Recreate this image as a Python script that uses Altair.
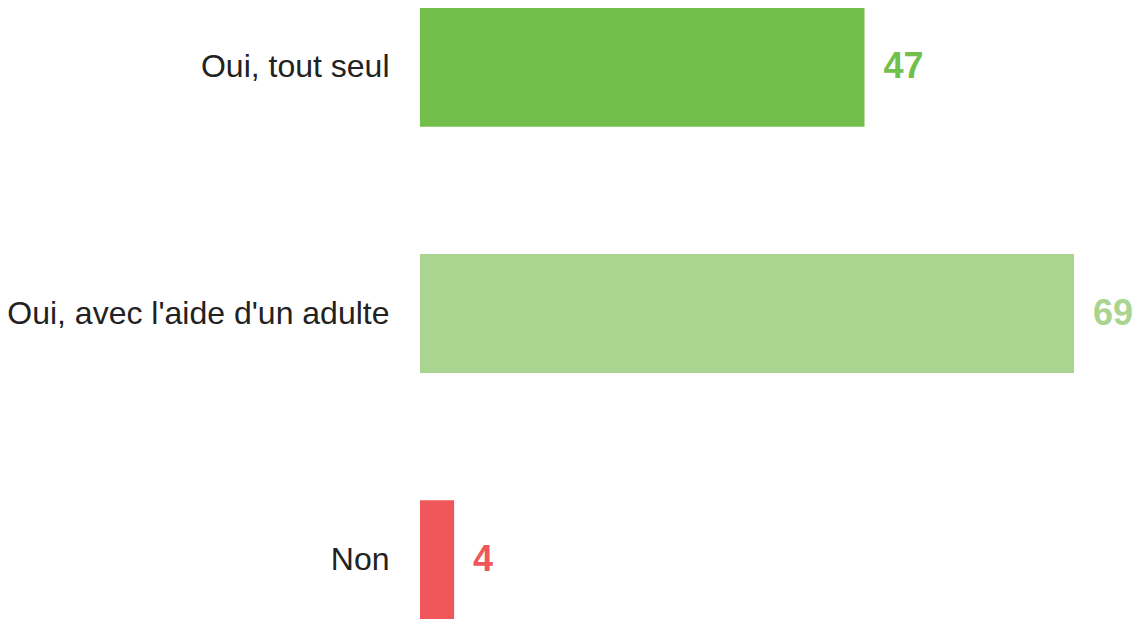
import altair as alt
import pandas as pd

categories = ["Oui, tout seul", "Oui, avec l'aide d'un adulte", "Non"]
values = [46.9, 69.0, 3.6]
colors = ["#72c04b", "#aad590", "#f0575b"]

df = pd.DataFrame({"cat": categories, "val": values})

y_enc = alt.Y(
    "cat:N",
    sort=categories,
    scale=alt.Scale(paddingInner=0.517, paddingOuter=0),
    axis=alt.Axis(
        title=None, domain=False, ticks=False, grid=False,
        labelPadding=31, labelFontSize=32, labelFont="Arial, Liberation Sans, sans-serif",
        labelColor="#222222", labelLimit=500,
    ),
)
x_enc = alt.X("val:Q", scale=alt.Scale(domain=[0, 69], nice=False, zero=True), axis=None)
color_enc = alt.Color("cat:N", scale=alt.Scale(domain=categories, range=colors), legend=None)

base = alt.Chart(df)
bars = base.mark_bar().encode(x=x_enc, y=y_enc, color=color_enc)
labels = base.mark_text(
    align="left", baseline="middle", dx=19, dy=0,
    fontSize=36, fontWeight="bold", font="Arial, Liberation Sans, sans-serif",
).encode(x=x_enc, y=y_enc, color=color_enc, text=alt.Text("val:Q", format=".0f"))

chart = (
    alt.layer(bars, labels)
    .properties(
        width=654, height=611,
        autosize=alt.AutoSizeParams(type="none"),
        padding={"left": 412, "top": 0, "right": 59, "bottom": 0},
        background="white",
    )
    .configure_view(stroke=None)
)

chart.save("out.html", embed_options={"renderer": "svg", "actions": False})
